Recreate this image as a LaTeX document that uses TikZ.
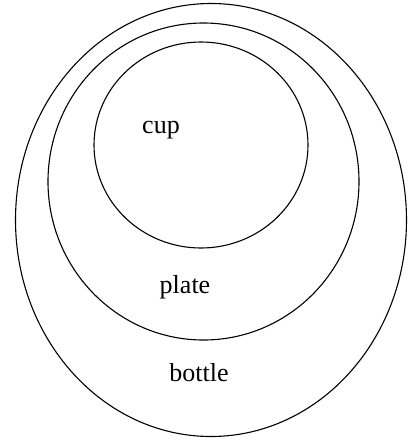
\documentclass[tikz,border=0pt]{standalone}
\usepackage{fontspec}
\setmainfont{Liberation Serif}
\begin{document}
\begin{tikzpicture}[x=1pt,y=-1pt,line cap=round,line join=round]
    \useasboundingbox (0,0) rectangle (408,440);
    \tikzset{ring/.style={draw,line width=1.1pt},
             word/.style={font=\fontsize{26}{30}\selectfont,inner sep=0pt}}
    \coordinate (O1) at (211,220);
    \coordinate (O2) at (203.5,181.5);
    \coordinate (O3) at (201,145);

    \draw[ring] (O1) ellipse [x radius=195.5,y radius=216.5];
    \draw[ring] (O2) ellipse [x radius=155.5,y radius=158.5];
    \draw[ring] (O3) ellipse [x radius=107,y radius=103];

    \node[word] (cup) at (161,130) {cup};
    \node[word] (plate) at (185,287) {plate};
    \node[word] (bottle) at (199,373) {bottle};
\end{tikzpicture}
\end{document}
